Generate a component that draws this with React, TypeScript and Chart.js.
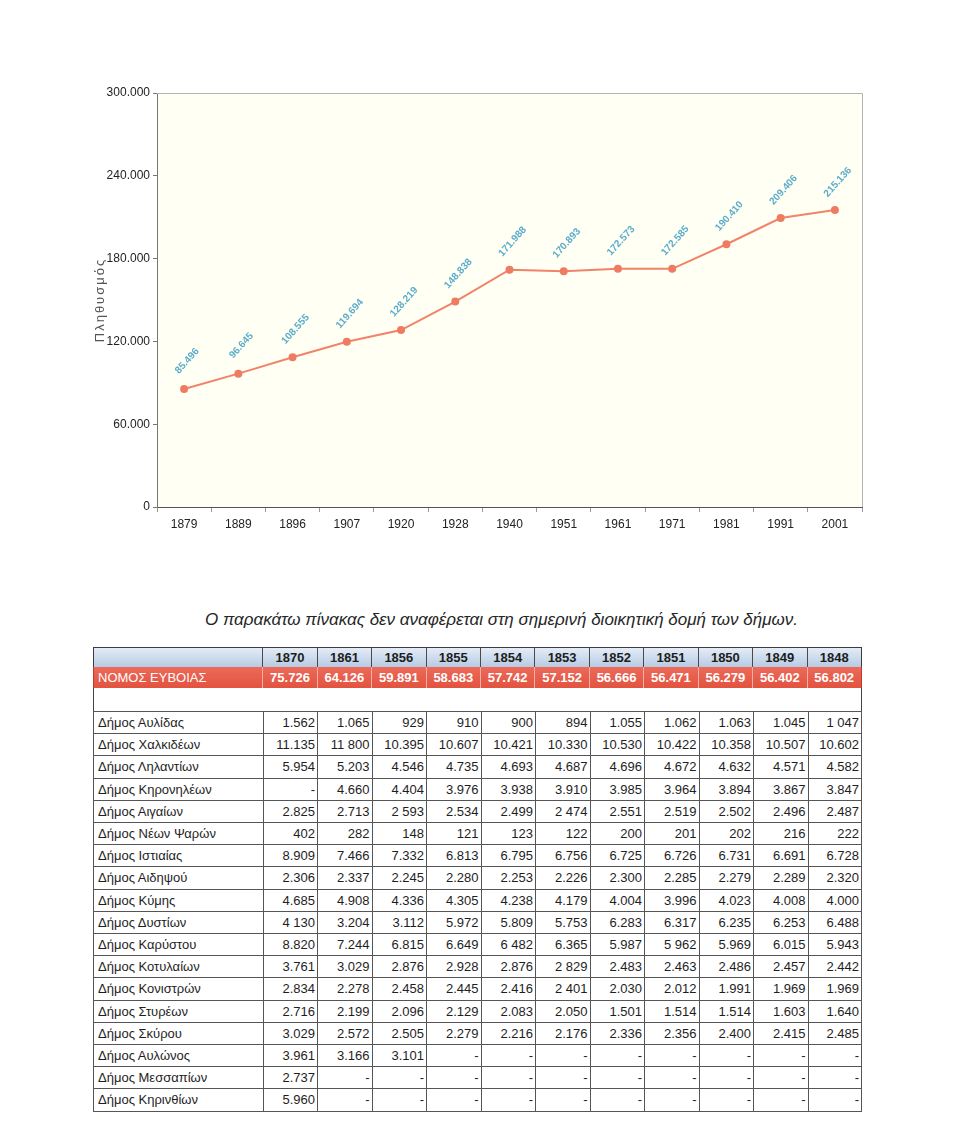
import React, { useEffect, useRef } from 'react';
import { Chart, registerables } from 'chart.js';

Chart.register(...registerables);

// ---------- chart data ----------
const censusYears = ['1879', '1889', '1896', '1907', '1920', '1928', '1940', '1951', '1961', '1971', '1981', '1991', '2001'];
const population = [85496, 96645, 108555, 119694, 128219, 148838, 171988, 170893, 172573, 172585, 190410, 209406, 215136];
const yAxisTitle = 'Πληθυσμός';

// ---------- table data ----------
const noteText = 'Ο παρακάτω πίνακας δεν αναφέρεται στη σημερινή διοικητική δομή των δήμων.';
const tableYears = ['1870', '1861', '1856', '1855', '1854', '1853', '1852', '1851', '1850', '1849', '1848'];
const nomosLabel = 'ΝΟΜΟΣ ΕΥΒΟΙΑΣ';
const nomosTotals = ['75.726', '64.126', '59.891', '58.683', '57.742', '57.152', '56.666', '56.471', '56.279', '56.402', '56.802'];
const municipalities = [
  'Δήμος Αυλίδας', 'Δήμος Χαλκιδέων', 'Δήμος Ληλαντίων', 'Δήμος Κηρονηλέων', 'Δήμος Αιγαίων', 'Δήμος Νέων Ψαρών',
  'Δήμος Ιστιαίας', 'Δήμος Αιδηψού', 'Δήμος Κύμης', 'Δήμος Δυστίων', 'Δήμος Καρύστου', 'Δήμος Κοτυλαίων',
  'Δήμος Κονιστρών', 'Δήμος Στυρέων', 'Δήμος Σκύρου', 'Δήμος Αυλώνος', 'Δήμος Μεσσαπίων', 'Δήμος Κηρινθίων',
];
const municipalityValues = [
  ['1.562', '1.065', '929', '910', '900', '894', '1.055', '1.062', '1.063', '1.045', '1 047'],
  ['11.135', '11 800', '10.395', '10.607', '10.421', '10.330', '10.530', '10.422', '10.358', '10.507', '10.602'],
  ['5.954', '5.203', '4.546', '4.735', '4.693', '4.687', '4.696', '4.672', '4.632', '4.571', '4.582'],
  ['-', '4.660', '4.404', '3.976', '3.938', '3.910', '3.985', '3.964', '3.894', '3.867', '3.847'],
  ['2.825', '2.713', '2 593', '2.534', '2.499', '2 474', '2.551', '2.519', '2.502', '2.496', '2.487'],
  ['402', '282', '148', '121', '123', '122', '200', '201', '202', '216', '222'],
  ['8.909', '7.466', '7.332', '6.813', '6.795', '6.756', '6.725', '6.726', '6.731', '6.691', '6.728'],
  ['2.306', '2.337', '2.245', '2.280', '2.253', '2.226', '2.300', '2.285', '2.279', '2.289', '2.320'],
  ['4.685', '4.908', '4.336', '4.305', '4.238', '4.179', '4.004', '3.996', '4.023', '4.008', '4.000'],
  ['4 130', '3.204', '3.112', '5.972', '5.809', '5.753', '6.283', '6.317', '6.235', '6.253', '6.488'],
  ['8.820', '7.244', '6.815', '6.649', '6 482', '6.365', '5.987', '5 962', '5.969', '6.015', '5.943'],
  ['3.761', '3.029', '2.876', '2.928', '2.876', '2 829', '2.483', '2.463', '2.486', '2.457', '2.442'],
  ['2.834', '2.278', '2.458', '2.445', '2.416', '2 401', '2.030', '2.012', '1.991', '1.969', '1.969'],
  ['2.716', '2.199', '2.096', '2.129', '2.083', '2.050', '1.501', '1.514', '1.514', '1.603', '1.640'],
  ['3.029', '2.572', '2.505', '2.279', '2.216', '2.176', '2.336', '2.356', '2.400', '2.415', '2.485'],
  ['3.961', '3.166', '3.101', '-', '-', '-', '-', '-', '-', '-', '-'],
  ['2.737', '-', '-', '-', '-', '-', '-', '-', '-', '-', '-'],
  ['5.960', '-', '-', '-', '-', '-', '-', '-', '-', '-', '-'],
];

const NARROW = "'Liberation Sans Narrow', 'Arial Narrow', 'Liberation Sans', Arial, sans-serif";
const SANS = "'Liberation Sans', Arial, Helvetica, sans-serif";

function fmt(n: number): string {
  return Math.round(n).toString().replace(/\B(?=(\d{3})+(?!\d))/g, '.');
}

const decorPlugin = {
  id: 'decor',
  beforeDraw(chart: any) {
    const { ctx, chartArea: a } = chart;
    ctx.save();
    ctx.fillStyle = '#fffff3';
    ctx.fillRect(a.left, a.top, a.right - a.left, a.bottom - a.top);
    ctx.restore();
  },
  afterDraw(chart: any) {
    const { ctx, chartArea: a } = chart;
    ctx.save();
    ctx.strokeStyle = '#b4b4b4';
    ctx.lineWidth = 1;
    ctx.beginPath();
    ctx.moveTo(a.left, a.top + 0.5);
    ctx.lineTo(a.right + 0.5, a.top + 0.5);
    ctx.lineTo(a.right + 0.5, a.bottom);
    ctx.stroke();
    // axis title with letter spacing
    ctx.translate(100, (a.top + a.bottom) / 2);
    ctx.rotate(-Math.PI / 2);
    ctx.font = `13px ${SANS}`;
    (ctx as any).letterSpacing = '2px';
    ctx.fillStyle = '#555';
    ctx.textAlign = 'center';
    ctx.textBaseline = 'middle';
    ctx.fillText(yAxisTitle, 0, 0);
    ctx.restore();
  },
  afterDatasetsDraw(chart: any) {
    const { ctx } = chart;
    const meta = chart.getDatasetMeta(0);
    const values = chart.data.datasets[0].data as number[];
    ctx.save();
    ctx.font = `bold 10px ${SANS}`;
    ctx.fillStyle = '#5aaccd';
    ctx.textAlign = 'center';
    ctx.textBaseline = 'middle';
    meta.data.forEach((pt: any, i: number) => {
      ctx.save();
      ctx.translate(pt.x + 3, pt.y - 28);
      ctx.rotate(-48 * Math.PI / 180);
      ctx.fillText(fmt(values[i]), 0, 0);
      ctx.restore();
    });
    ctx.restore();
  },
};

function PopulationChart() {
  const ref = useRef<HTMLCanvasElement | null>(null);
  useEffect(() => {
    if (!ref.current) return;
    const chart = new Chart(ref.current, {
      type: 'line',
      data: {
        labels: censusYears,
        datasets: [{
          data: population,
          borderColor: '#f2836a',
          backgroundColor: '#f2836a',
          borderWidth: 2,
          pointRadius: 3,
          pointBackgroundColor: '#ee7c62',
          pointBorderColor: '#ee7c62',
          tension: 0,
        }],
      },
      options: {
        responsive: false,
        animation: false,
        layout: { padding: { left: 0, right: 18, top: 93, bottom: 0 } },
        plugins: { legend: { display: false }, tooltip: { enabled: false }, title: { display: false } },
        scales: {
          x: {
            type: 'category',
            offset: true,
            grid: { display: true, drawOnChartArea: false, drawTicks: true, tickLength: 5, color: '#9a9a9a', offset: true },
            border: { color: '#555', width: 1 },
            ticks: { color: '#222', font: { family: NARROW, size: 12 }, padding: 5, maxRotation: 0, autoSkip: false },
            afterFit: (s: any) => { s.height = 40; },
          },
          y: {
            min: 0,
            max: 300000,
            ticks: { stepSize: 60000, color: '#222', font: { family: NARROW, size: 12 }, padding: 3, callback: (v: any) => fmt(Number(v)) },
            grid: { display: true, drawOnChartArea: false, drawTicks: true, tickLength: 4, color: '#777' },
            border: { color: '#777', width: 1 },
            afterFit: (s: any) => { s.width = 157; },
          },
        },
      },
      plugins: [decorPlugin],
    } as any);
    return () => chart.destroy();
  }, []);
  return (
    <canvas
      ref={ref}
      width={880}
      height={547}
      style={{ position: 'absolute', left: 0, top: 0, width: 880, height: 547 }}
    />
  );
}

const TABLE_LEFT = 93;
const FIRST_W = 169.5;
const COL_W = 54.5;
const TABLE_W = FIRST_W + COL_W * 11;
const ROW_TOP = 711;
const ROW_H = 22.2;

function DataTable() {
  const headerCell: React.CSSProperties = {
    boxSizing: 'border-box', width: COL_W, height: '100%', borderLeft: '1px solid #4a4a4a',
    display: 'flex', alignItems: 'center', justifyContent: 'center',
  };
  return (
    <div style={{ position: 'absolute', left: 0, top: 0, fontFamily: SANS }}>
      <div style={{ position: 'absolute', left: 205, top: 610, fontSize: 17, fontStyle: 'italic', color: '#262626', whiteSpace: 'nowrap' }}>
        {noteText}
      </div>
      {/* header */}
      <div style={{
        position: 'absolute', left: TABLE_LEFT, top: 647, width: TABLE_W, height: 20, boxSizing: 'border-box',
        border: '1px solid #3c3c3c', borderBottom: 'none', display: 'flex',
        background: 'linear-gradient(#e4ecf6, #b7cbe4)', fontWeight: 'bold', fontSize: 13, color: '#1d1d1d',
      }}>
        <div style={{ width: FIRST_W - 1 }} />
        {tableYears.map((y) => <div key={y} style={headerCell}>{y}</div>)}
      </div>
      {/* nomos row */}
      <div style={{
        position: 'absolute', left: TABLE_LEFT, top: 667, width: TABLE_W, height: 21, boxSizing: 'border-box',
        borderLeft: '1px solid #c0392b', borderRight: '1px solid #c0392b', display: 'flex',
        background: 'linear-gradient(#ec6a5a, #e2533f)', color: '#fff', fontSize: 13,
      }}>
        <div style={{ width: FIRST_W - 1, display: 'flex', alignItems: 'center', paddingLeft: 4, boxSizing: 'border-box' }}>{nomosLabel}</div>
        {nomosTotals.map((v, i) => (
          <div key={i} style={{ ...headerCell, borderLeft: '1px solid #f3b0a6', fontWeight: 'bold' }}>{v}</div>
        ))}
      </div>
      {/* blank separator */}
      <div style={{
        position: 'absolute', left: TABLE_LEFT, top: 688, width: TABLE_W, height: ROW_TOP - 688, boxSizing: 'border-box',
        borderLeft: '1px solid #444', borderRight: '1px solid #444',
      }} />
      {/* data rows */}
      {municipalities.map((name, r) => (
        <div key={name} style={{
          position: 'absolute', left: TABLE_LEFT, top: ROW_TOP + r * ROW_H, width: TABLE_W, height: ROW_H + 1,
          display: 'flex', fontSize: 13, color: '#1e1e1e',
        }}>
          <div style={{
            boxSizing: 'border-box', width: FIRST_W, height: '100%', border: '1px solid #555', borderRight: 'none',
            display: 'flex', alignItems: 'center', paddingLeft: 4, whiteSpace: 'nowrap',
          }}>{name}</div>
          {municipalityValues[r].map((v, c) => (
            <div key={c} style={{
              boxSizing: 'border-box', width: COL_W, height: '100%', border: '1px solid #555',
              borderRight: c === 10 ? '1px solid #555' : 'none',
              display: 'flex', alignItems: 'center', justifyContent: 'flex-end', paddingRight: 2, whiteSpace: 'nowrap',
            }}>{v}</div>
          ))}
        </div>
      ))}
    </div>
  );
}

export default function App() {
  return (
    <div style={{ position: 'absolute', left: 0, top: 0, width: 960, height: 1127, background: '#fff', overflow: 'hidden' }}>
      <PopulationChart />
      <DataTable />
    </div>
  );
}
